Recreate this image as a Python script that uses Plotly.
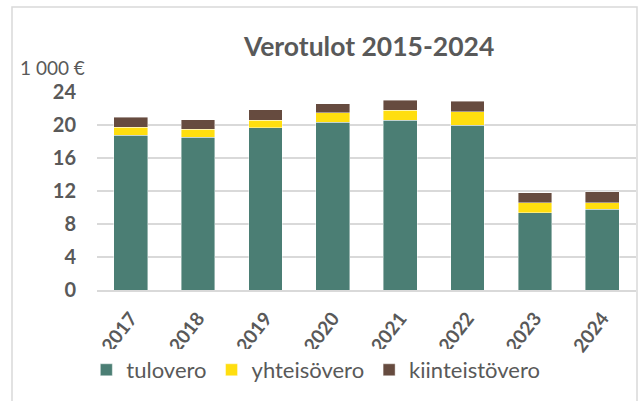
import plotly.graph_objects as go

years = ["2017", "2018", "2019", "2020", "2021", "2022", "2023", "2024"]
tulovero = [18.73, 18.53, 19.67, 20.36, 20.60, 20.00, 9.37, 9.77]
yhteisovero = [1.01, 0.93, 0.93, 1.14, 1.20, 1.60, 1.18, 0.81]
kiinteistovero = [1.18, 1.18, 1.26, 1.05, 1.23, 1.27, 1.25, 1.30]
y_ticks = [0, 4, 8, 12, 16, 20, 24]

FONT = "Lato, 'Open Sans', sans-serif"
GREY = "#595959"

series = [
    ("tulovero", tulovero, "#4b7e74"),
    ("yhteisövero", yhteisovero, "#ffde0f"),
    ("kiinteistövero", kiinteistovero, "#664b3f"),
]

fig = go.Figure()
for name, vals, col in series:
    fig.add_bar(x=years, y=vals, name=name,
                marker=dict(color=col, line=dict(color="rgba(255,255,255,0.6)", width=0.7)), width=0.5)

fig.update_layout(
    width=643, height=401,
    barmode="stack",
    paper_bgcolor="white", plot_bgcolor="white",
    margin=dict(l=97, r=7, t=92, b=111),
    font=dict(family=FONT, color=GREY),
    title=dict(text="Verotulot 2015-2024", x=0.574, xanchor="center", y=1 - 47 / 401, yanchor="middle",
               font=dict(family=FONT, size=26.5, weight="bold", color=GREY)),
    showlegend=True,
    legend=dict(orientation="h", x=0.406, xanchor="center", y=-0.404, yanchor="middle",
                font=dict(family=FONT, size=22, color=GREY), traceorder="normal", itemwidth=30),
    xaxis=dict(tickangle=-52, tickfont=dict(family=FONT, size=19, weight="bold", color=GREY),
               showline=True, linecolor="#d9d9d9", linewidth=1.5, showgrid=False, ticks="", ticklabelstandoff=8),
    yaxis=dict(range=[0, 24], tickvals=y_ticks, tickfont=dict(family=FONT, size=20, weight="bold", color=GREY),
               showgrid=True, gridcolor="#d9d9d9", gridwidth=1.5, zeroline=False, ticks="", ticklabelstandoff=20,
               showline=False),
    annotations=[dict(text="1 000 €", xref="paper", yref="paper", x=-0.018, y=1 + 25 / 198, xanchor="right",
                      yanchor="middle", showarrow=False, font=dict(family=FONT, size=19, color=GREY))],
    shapes=[dict(type="rect", xref="paper", yref="paper", x0=-85 / 539, x1=1 + 1 / 539,
                 y0=-140 / 198, y1=1 + 85 / 198, line=dict(color="#d9d9d9", width=1.5),
                 fillcolor="rgba(0,0,0,0)", layer="below")],
)

fig.write_html("out.html", config={"displayModeBar": False},
               post_script="document.body.style.margin='0';")
